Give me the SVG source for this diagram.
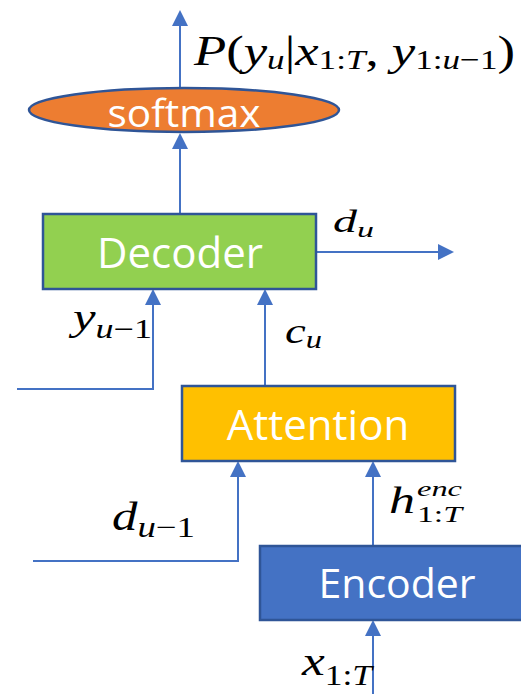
<svg xmlns="http://www.w3.org/2000/svg" width="521" height="694" viewBox="0 0 521 694">
<style>
.node { stroke: #2F5597; stroke-width: 2.5; }
.lbl { font-family: "Open Sans", "Noto Sans", sans-serif; fill: #ffffff; text-anchor: middle; }
.conn { stroke: #4472C4; stroke-width: 2; fill: none; }
.math { font-family: "Liberation Serif", "DejaVu Serif", serif; fill: #000000; }
.i { font-style: italic; }
</style>
<defs>
<marker id="arr" markerWidth="8" markerHeight="8" refX="7" refY="4" orient="auto" markerUnits="strokeWidth">
<path d="M0,0 L8,4 L0,8 Z" fill="#4472C4"/>
</marker>
</defs>
<rect width="521" height="694" fill="#ffffff"/>
<g id="connectors">
<line class="conn" x1="180" y1="88" x2="180" y2="12" marker-end="url(#arr)"/>
<line class="conn" x1="180" y1="213" x2="180" y2="135" marker-end="url(#arr)"/>
<line class="conn" x1="316" y1="252" x2="452" y2="252" marker-end="url(#arr)"/>
<polyline class="conn" points="17,389 153,389 153,291" marker-end="url(#arr)"/>
<line class="conn" x1="265" y1="386" x2="265" y2="291" marker-end="url(#arr)"/>
<polyline class="conn" points="33,561 238,561 238,463" marker-end="url(#arr)"/>
<line class="conn" x1="373" y1="546" x2="373" y2="463" marker-end="url(#arr)"/>
<line class="conn" x1="373" y1="694" x2="373" y2="622" marker-end="url(#arr)"/>
</g>
<g id="softmax">
<ellipse class="node" cx="184" cy="110" rx="155" ry="22" fill="#ED7D31"/>
<text class="lbl" x="184" y="127" font-size="38" textLength="153" lengthAdjust="spacingAndGlyphs">softmax</text>
</g>
<g id="decoder">
<rect class="node" x="43" y="214" width="273" height="75" fill="#92D050"/>
<text class="lbl" x="180" y="268" font-size="42">Decoder</text>
</g>
<g id="attention">
<rect class="node" x="182" y="386" width="273" height="75" fill="#FFC000"/>
<text class="lbl" x="318" y="440" font-size="42">Attention</text>
</g>
<g id="encoder">
<rect class="node" x="260" y="546" width="275" height="74" fill="#4472C4"/>
<text class="lbl" x="397" y="598" font-size="41">Encoder</text>
</g>
<g id="labels">
<text class="math" x="194" y="65" font-size="42" textLength="321" lengthAdjust="spacingAndGlyphs"><tspan class="i">P</tspan>(<tspan class="i">y</tspan><tspan class="i" font-size="28" dy="4">u</tspan><tspan dy="-4">|</tspan><tspan class="i">x</tspan><tspan font-size="28" dy="4">1:<tspan class="i">T</tspan></tspan><tspan dy="-4">, </tspan><tspan class="i">y</tspan><tspan font-size="28" dy="4">1:<tspan class="i">u</tspan>−1</tspan><tspan dy="-4">)</tspan></text>
<text class="math" x="333" y="232" font-size="31" textLength="41" lengthAdjust="spacingAndGlyphs"><tspan class="i">d</tspan><tspan class="i" font-size="22" dy="5">u</tspan></text>
<text class="math" x="73" y="330" font-size="38" textLength="79" lengthAdjust="spacingAndGlyphs"><tspan class="i">y</tspan><tspan font-size="27" dy="8"><tspan class="i">u</tspan>−1</tspan></text>
<text class="math" x="285" y="343" font-size="36" textLength="37" lengthAdjust="spacingAndGlyphs"><tspan class="i">c</tspan><tspan class="i" font-size="25" dy="5">u</tspan></text>
<text class="math" x="112" y="530" font-size="40" textLength="83" lengthAdjust="spacingAndGlyphs"><tspan class="i">d</tspan><tspan font-size="29" dy="7"><tspan class="i">u</tspan>−1</tspan></text>
<text class="math i" x="389" y="513" font-size="37" textLength="26" lengthAdjust="spacingAndGlyphs">h</text>
<text class="math i" x="417" y="496" font-size="21" textLength="45" lengthAdjust="spacingAndGlyphs">enc</text>
<text class="math" x="417" y="522" font-size="24" textLength="45" lengthAdjust="spacingAndGlyphs">1:<tspan class="i">T</tspan></text>
<text class="math" x="302" y="675" font-size="42" textLength="70" lengthAdjust="spacingAndGlyphs"><tspan class="i">x</tspan><tspan font-size="29" dy="10">1:<tspan class="i">T</tspan></tspan></text>
</g>
</svg>
